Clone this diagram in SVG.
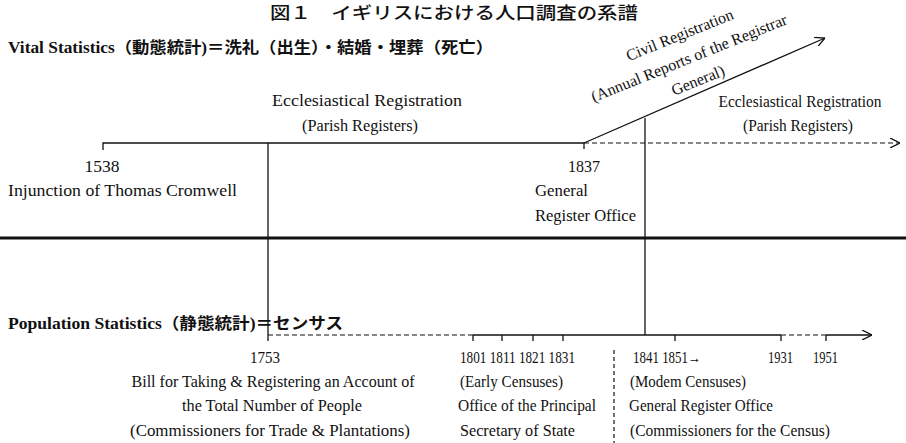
<svg xmlns="http://www.w3.org/2000/svg" width="906" height="443" viewBox="0 0 906 443">
<defs>
<style>
.t{font-family:"Liberation Serif","Noto Sans CJK JP",serif;font-size:16px;fill:#111}
.b{font-family:"Liberation Serif","Noto Sans CJK JP",serif;font-size:16px;font-weight:bold;fill:#111}
.ttl{font-family:"Noto Sans CJK JP",sans-serif;font-size:17px;font-weight:500;fill:#111}
.m{text-anchor:middle}
.ln{stroke:#111;stroke-width:1.3;fill:none}
.ds{stroke:#111;stroke-width:1.2;fill:none;stroke-dasharray:5 3}
.thick{stroke:#111;stroke-width:3;fill:none}
</style>
<marker id="arr" viewBox="0 0 10 10" refX="10" refY="5" markerWidth="10" markerHeight="10" markerUnits="userSpaceOnUse" orient="auto">
<path d="M0,0 L10,5 L0,10" fill="none" stroke="#111" stroke-width="1.3"/>
</marker>
</defs>
<rect width="906" height="443" fill="#fff"/>

<g id="title"><text class="ttl" x="270" y="19" textLength="368" lengthAdjust="spacingAndGlyphs">図１　イギリスにおける人口調査の系譜</text></g>

<g id="vital-heading"><text class="b" x="8" y="53" textLength="485" lengthAdjust="spacingAndGlyphs">Vital Statistics（動態統計)＝洗礼（出生）・結婚・埋葬（死亡）</text></g>

<g id="population-heading"><text class="b" x="8" y="329" textLength="335" lengthAdjust="spacingAndGlyphs">Population Statistics（静態統計)＝センサス</text></g>

<g id="connectors">
<line class="thick" x1="0" y1="238" x2="906" y2="238"/>
<path class="ln" d="M103,150 V143 H584"/>
<line class="ln" x1="584" y1="143" x2="584" y2="149"/>
<line class="ds" x1="584" y1="143" x2="900" y2="143" marker-end="url(#arr)"/>
<line class="ln" x1="584" y1="143" x2="825" y2="38" marker-end="url(#arr)"/>
<line class="ln" x1="268" y1="143" x2="268" y2="341"/>
<line class="ln" x1="645" y1="118" x2="645" y2="335"/>
<line class="ds" x1="614" y1="350" x2="614" y2="443" style="stroke-dasharray:4 3"/>
<line class="ds" x1="268" y1="335" x2="473" y2="335"/>
<line class="ln" x1="473" y1="335" x2="781" y2="335"/>
<line class="ds" x1="781" y1="335" x2="826" y2="335"/>
<line class="ln" x1="826" y1="335" x2="872" y2="335" marker-end="url(#arr)"/>
<path class="ln" d="M473,335 V341 M502,335 V341 M533,335 V341 M563,335 V341 M675,335 V341 M781,335 V341 M826,335 V341"/>
</g>

<g id="eccl-left">
<text class="t m" x="367" y="106" textLength="190" lengthAdjust="spacingAndGlyphs">Ecclesiastical Registration</text>
<text class="t m" x="360" y="131" textLength="116" lengthAdjust="spacingAndGlyphs">(Parish Registers)</text>
</g>

<g id="eccl-right">
<text class="t m" x="800" y="107" textLength="163" lengthAdjust="spacingAndGlyphs">Ecclesiastical Registration</text>
<text class="t m" x="798" y="131" textLength="110" lengthAdjust="spacingAndGlyphs">(Parish Registers)</text>
</g>

<g id="civil" transform="translate(691,63) rotate(-22)">
<text class="t m" x="0" y="-25">Civil Registration</text>
<text class="t m" x="0" y="0">(Annual Reports of the Registrar</text>
<text class="t m" x="0" y="24">General)</text>
</g>

<g id="n1538">
<text class="t m" x="102" y="172" textLength="35" lengthAdjust="spacingAndGlyphs">1538</text>
<text class="t" x="8" y="196" textLength="229" lengthAdjust="spacingAndGlyphs">Injunction of Thomas Cromwell</text>
</g>

<g id="n1837">
<text class="t m" x="584" y="172" textLength="32" lengthAdjust="spacingAndGlyphs">1837</text>
<text class="t" x="535" y="196" textLength="53" lengthAdjust="spacingAndGlyphs">General</text>
<text class="t" x="535" y="221" textLength="101" lengthAdjust="spacingAndGlyphs">Register Office</text>
</g>

<g id="n1753">
<text class="t m" x="265" y="363" textLength="30" lengthAdjust="spacingAndGlyphs">1753</text>
<text class="t m" x="273" y="387" textLength="283" lengthAdjust="spacingAndGlyphs">Bill for Taking &amp; Registering an Account of</text>
<text class="t m" x="272" y="411" textLength="180" lengthAdjust="spacingAndGlyphs">the Total Number of People</text>
<text class="t m" x="270" y="436" textLength="280" lengthAdjust="spacingAndGlyphs">(Commissioners for Trade &amp; Plantations)</text>
</g>

<g id="early">
<text class="t" x="460" y="363" textLength="115" lengthAdjust="spacingAndGlyphs">1801 1811 1821 1831</text>
<text class="t" x="460" y="387" textLength="103" lengthAdjust="spacingAndGlyphs">(Early Censuses)</text>
<text class="t" x="458" y="411" textLength="138" lengthAdjust="spacingAndGlyphs">Office of the Principal</text>
<text class="t" x="460" y="436" textLength="115" lengthAdjust="spacingAndGlyphs">Secretary of State</text>
</g>

<g id="modern">
<text class="t" x="633" y="363" textLength="68" lengthAdjust="spacingAndGlyphs">1841 1851→</text>
<text class="t" x="768" y="363" textLength="25" lengthAdjust="spacingAndGlyphs">1931</text>
<text class="t" x="813" y="363" textLength="25" lengthAdjust="spacingAndGlyphs">1951</text>
<text class="t" x="630" y="387" textLength="116" lengthAdjust="spacingAndGlyphs">(Modem Censuses)</text>
<text class="t" x="629" y="411" textLength="144" lengthAdjust="spacingAndGlyphs">General Register Office</text>
<text class="t" x="630" y="436" textLength="200" lengthAdjust="spacingAndGlyphs">(Commissioners for the Census)</text>
</g>
</svg>
